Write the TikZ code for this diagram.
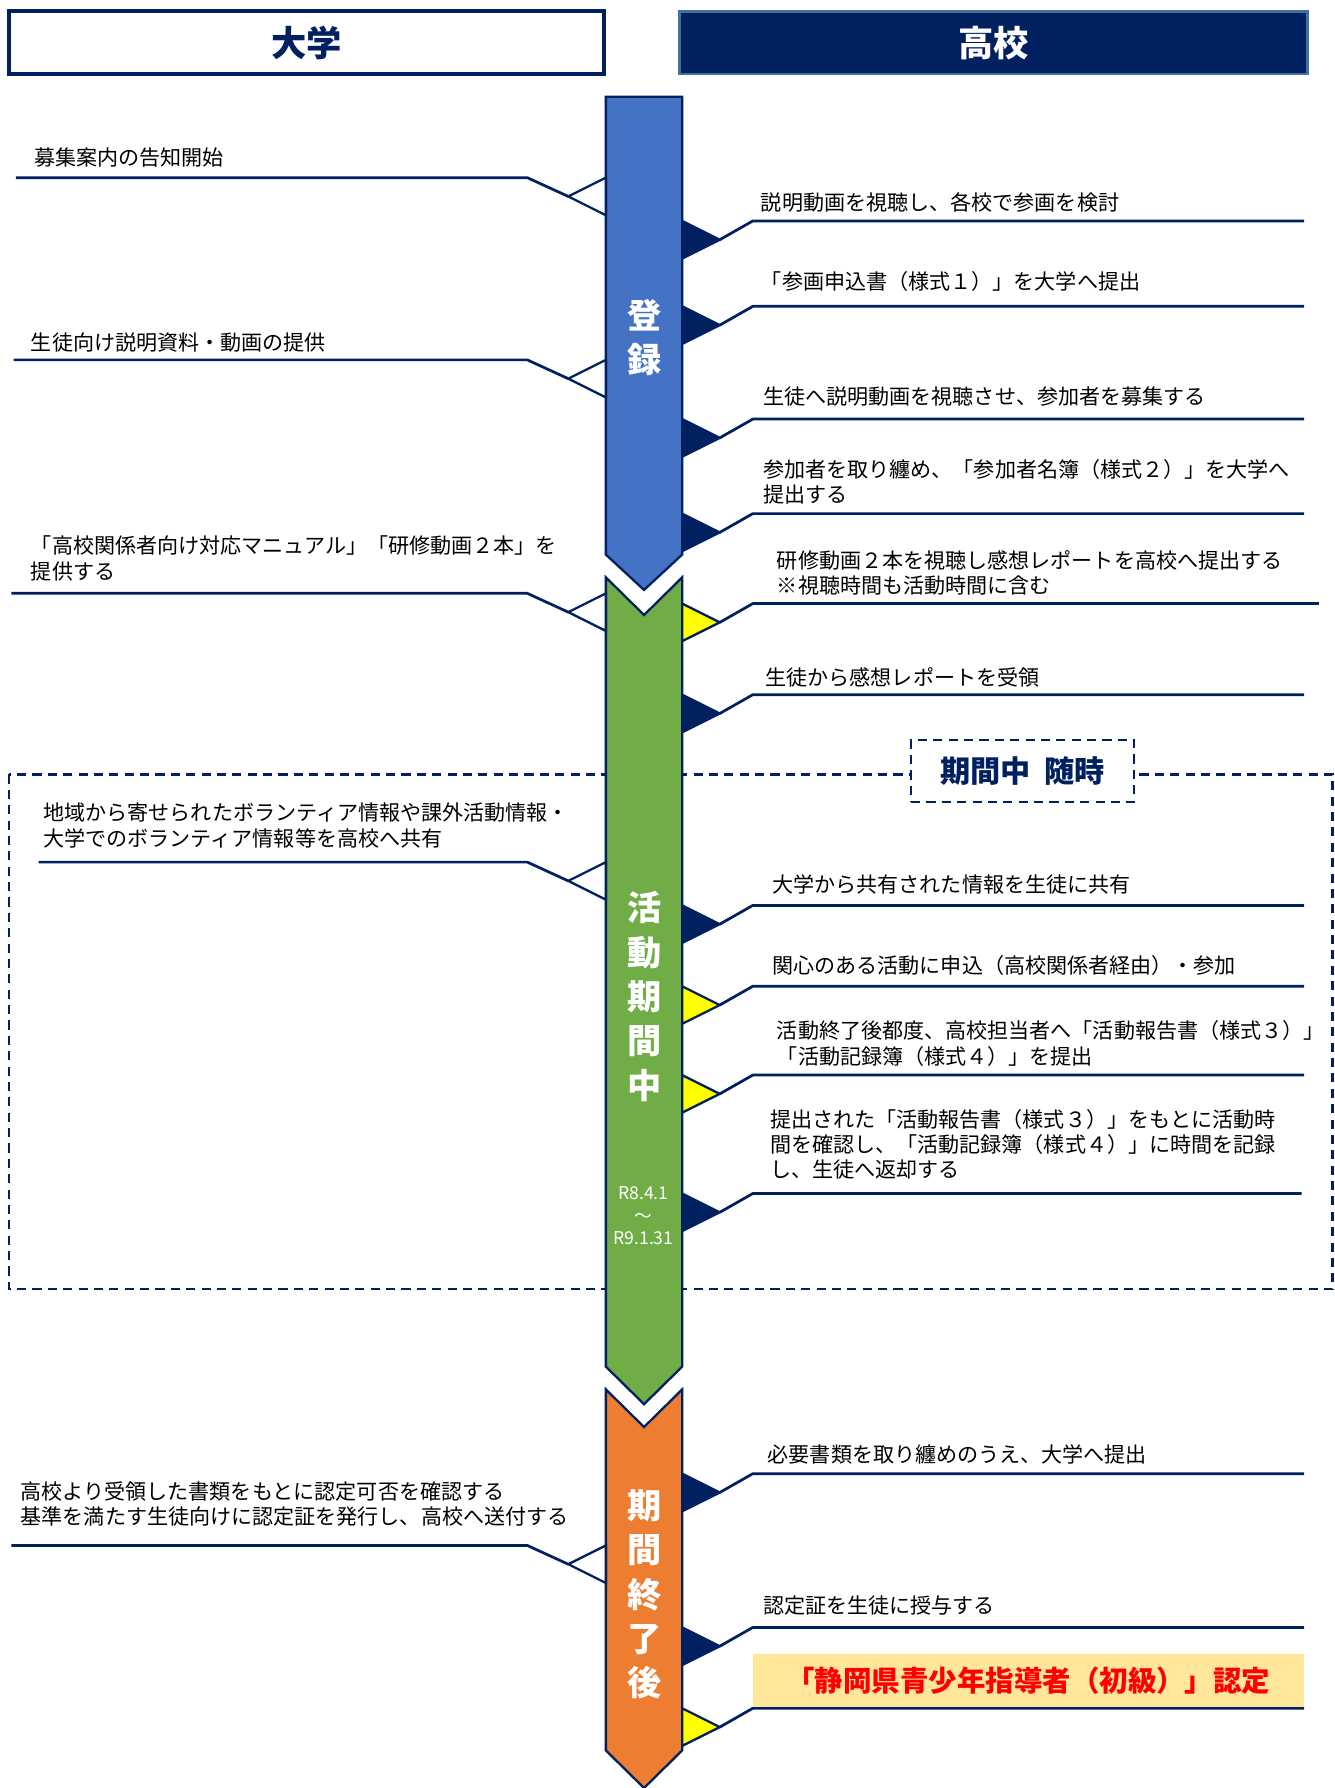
\documentclass[tikz,border=0pt]{standalone}
\usepackage{fontspec}
\setmainfont{Noto Sans CJK JP}
\usetikzlibrary{calc}
\definecolor{navy}{HTML}{002060}
\definecolor{ablue}{HTML}{4472C4}
\definecolor{agreen}{HTML}{70AD47}
\definecolor{aorange}{HTML}{ED7D31}
\definecolor{ayellow}{HTML}{FFFF00}
\definecolor{lyellow}{HTML}{FFE699}
\definecolor{hborder}{HTML}{41719C}
\definecolor{ared}{HTML}{FF0000}
\tikzset{
  conn/.style={draw=navy, line width=2.4pt},
  txt/.style={font=\fontsize{18.5}{22.5}\selectfont, inner sep=0pt, anchor=west, align=left, text=black, yshift=-1.5pt},
  phase/.style={draw=navy, line width=2pt, line join=miter},
  lbl/.style={font=\fontsize{30}{39}\selectfont\bfseries, text=white, align=center, inner sep=0pt},
  tri/.style={draw=navy, line width=2pt, line join=miter},
  hdr/.style={minimum width=#1, minimum height=55pt, inner sep=0pt, outer sep=0pt, font=\fontsize{31}{36}\selectfont\bfseries},
  dash box/.style={draw=navy, line width=2pt, dash pattern=on 8pt off 5.5pt},
}
\newcommand\LeftCall[3]{%
  \coordinate (#1s) at (#3,#2);
  \coordinate (#1e) at (463,#2);
  \coordinate (#1t) at (499,#2+16.5);
  \coordinate (#1a) at (532,#2);
  \coordinate (#1b) at (532,#2+33);
  \filldraw[tri, fill=white] (#1t) -- (#1a) -- (#1b) -- cycle;
  \draw[conn] (#1s) -- (#1e) -- (#1t);
}
\newcommand\RightCall[4]{%
  \coordinate (#1a) at (599,#2);
  \coordinate (#1b) at (599,#2+33);
  \coordinate (#1t) at (632,#2+16.5);
  \coordinate (#1j) at (661,#2);
  \coordinate (#1e) at (#4,#2);
  \filldraw[tri, fill=#3] (#1a) -- (#1t) -- (#1b) -- cycle;
  \draw[conn] (#1t) -- (#1j) -- (#1e);
}
\begin{document}
\begin{tikzpicture}[x=1pt, y=-1pt]
\useasboundingbox (0,0) rectangle (1172.2,1570);
% headers
\node[hdr=522pt, draw=navy, line width=3.5pt, fill=white, text=navy] (hU) at (269,37.5) {大学};
\node[hdr=551pt, draw=hborder, line width=2.5pt, fill=navy, text=white] (hK) at (872.5,37.5) {高校};
% dashed region
\draw[dash box] (8,680) rectangle (1170,1132);
% phase arrows
\filldraw[phase, fill=ablue] (532,85) -- (599,85) -- (599,487) -- (565.5,518) -- (532,487) -- cycle;
\filldraw[phase, fill=agreen] (532,507) -- (565.5,540) -- (599,507) -- (599,1200) -- (565.5,1233) -- (532,1200) -- cycle;
\filldraw[phase, fill=aorange] (532,1220) -- (565.5,1253) -- (599,1220) -- (599,1537) -- (565.5,1570) -- (532,1537) -- cycle;
\node[lbl] (p1) at (566,296.5) {登\\録};
\node[lbl] (p2) at (566,875) {活\\動\\期\\間\\中};
\node[lbl, font=\fontsize{15.5}{20}\selectfont] (p2d) at (565,1067.5) {R8.4.1\\～\\R9.1.31};
\node[lbl] (p3) at (566,1400) {期\\間\\終\\了\\後};
% left callouts
\LeftCall{L1}{156}{14}
\LeftCall{L2}{316}{12}
\LeftCall{L3}{521}{10}
\LeftCall{L4}{757}{34}
\LeftCall{L5}{1357}{10}
\node[txt] (t1) at (30,137) {募集案内の告知開始};
\node[txt] (t2) at (27,299) {生徒向け説明資料・動画の提供};
\node[txt] (t3) at (27,489) {「高校関係者向け対応マニュアル」「研修動画２本」を\\提供する};
\node[txt] (t4) at (38,723.5) {地域から寄せられたボランティア情報や課外活動情報・\\大学でのボランティア情報等を高校へ共有};
\node[txt] (t5) at (18,1319) {高校より受領した書類をもとに認定可否を確認する\\基準を満たす生徒向けに認定証を発行し、高校へ送付する};
% right callouts
\RightCall{R1}{194}{navy}{1145}
\RightCall{R2}{269}{navy}{1145}
\RightCall{R3}{368}{navy}{1145}
\RightCall{R4}{451}{navy}{1145}
\RightCall{R5}{530}{ayellow}{1158}
\RightCall{R6}{610}{navy}{1145}
\RightCall{R7}{795}{navy}{1145}
\RightCall{R8}{866}{ayellow}{1145}
\RightCall{R9}{944}{ayellow}{1145}
\RightCall{R10}{1048}{navy}{1143}
\RightCall{R11}{1294}{navy}{1145}
\RightCall{R12}{1429}{navy}{1145}
\RightCall{R13}{1500}{ayellow}{1145}
\node[txt] (u1) at (668,176) {説明動画を視聴し、各校で参画を検討};
\node[txt] (u2) at (668,246) {「参画申込書（様式１）」を大学へ提出};
\node[txt] (u3) at (670,347) {生徒へ説明動画を視聴させ、参加者を募集する};
\node[txt] (u4) at (670,421.5) {参加者を取り纏め、「参加者名簿（様式２）」を大学へ\\提出する};
\node[txt] (u5) at (682,501.5) {研修動画２本を視聴し感想レポートを高校へ提出する\\※視聴時間も活動時間に含む};
\node[txt] (u6) at (672,593) {生徒から感想レポートを受領};
\node[txt] (u7) at (678,775) {大学から共有された情報を生徒に共有};
\node[txt] (u8) at (678,846) {関心のある活動に申込（高校関係者経由）・参加};
\node[txt] (u9) at (682,914.5) {活動終了後都度、高校担当者へ「活動報告書（様式３）」\\「活動記録簿（様式４）」を提出};
\node[txt, font=\fontsize{18.5}{22}\selectfont] (u10) at (676,1003) {提出された「活動報告書（様式３）」をもとに活動時\\間を確認し、「活動記録簿（様式４）」に時間を記録\\し、生徒へ返却する};
\node[txt] (u11) at (674,1276) {必要書類を取り纏めのうえ、大学へ提出};
\node[txt] (u12) at (670,1408) {認定証を生徒に授与する};
% period box
\node[dash box, fill=white, minimum width=196pt, minimum height=54pt, inner sep=0pt, text=navy, font=\fontsize{26.5}{30}\selectfont\bfseries] (zb) at (898,677) {期間中\hspace{0.45em}随時};
% certification box
\node[fill=lyellow, minimum width=484pt, minimum height=47pt, inner sep=0pt, text=ared, font=\fontsize{25}{30}\selectfont\bfseries] (cert) at (903,1475.5) {「静岡県青少年指導者（初級）」認定};
\end{tikzpicture}
\end{document}
